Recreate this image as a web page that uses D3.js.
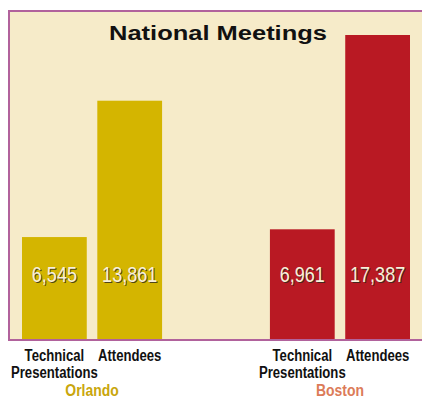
<!DOCTYPE html>
<html>
<head>
<meta charset="utf-8">
<script src="https://cdn.jsdelivr.net/npm/d3@7"></script>
<style>
  body { margin: 0; background: #ffffff; overflow: hidden; }
  svg { display: block; overflow: hidden; }
  text { font-family: "Liberation Sans", Arial, sans-serif; }
</style>
</head>
<body>
<div id="chart"></div>
<script>
// data
var cities = ["Orlando", "Boston"];
var measures = ["Technical Presentations", "Attendees"];
var measure_lines = [["Technical", "Presentations"], ["Attendees"]];
var orlando_values = [6545, 13861];
var boston_values = [6961, 17387];

var bar_colours = {"Orlando": "#d4b500", "Boston": "#b91923"};
var city_colours = {"Orlando": "#c9a60c", "Boston": "#dc7b59"};

var width = 422, height = 400;
var squeeze = 0.82; // the original uses a condensed face

var rows = [];
cities.forEach(function(city, ci){
	var vals = ci == 0 ? orlando_values : boston_values;
	measures.forEach(function(m, mi){
		rows.push({city: city, measure: m, mi: mi, value: vals[mi]});
	});
});

function narrow(sel, x, y){
	sel.attr("transform", "translate(" + x + "," + y + ") scale(" + squeeze + ",1)")
		.attr("text-anchor", "middle");
	return sel;
}

var svg = d3.select("#chart").append("svg")
	.attr("width", width)
	.attr("height", height);

// panel, runs off the right edge like the original
var panel = {left: 9, top: 11, bottom: 340};
svg.append("rect")
	.attr("x", panel.left)
	.attr("y", panel.top)
	.attr("width", width)
	.attr("height", panel.bottom - panel.top)
	.attr("fill", "#f6ebc9");

var x0 = d3.scaleBand()
	.domain(cities)
	.range([22, 410])
	.paddingInner(0.435);

var x1 = d3.scaleBand()
	.domain(measures)
	.range([0, x0.bandwidth()])
	.paddingInner(0.14);

// the bars do not start from zero in the original
var y = d3.scaleLinear()
	.domain([1075, 17387])
	.range([339, 35]);

var fmt = d3.format(",");

var bars = svg.selectAll("g.bar")
	.data(rows)
	.enter().append("g")
	.attr("class", "bar")
	.attr("transform", function(d){ return "translate(" + (x0(d.city) + x1(d.measure)) + ",0)"; });

bars.append("rect")
	.attr("x", 0)
	.attr("y", function(d){ return y(d.value); })
	.attr("width", x1.bandwidth())
	.attr("height", function(d){ return y.range()[0] - y(d.value); })
	.attr("fill", function(d){ return bar_colours[d.city]; });

// value labels with a little dark shadow
bars.append("text")
	.call(narrow, x1.bandwidth() / 2 + 1, 283)
	.attr("font-size", 22)
	.attr("fill", "#2e2a1c")
	.attr("opacity", 0.8)
	.text(function(d){ return fmt(d.value); });

bars.append("text")
	.call(narrow, x1.bandwidth() / 2, 282)
	.attr("font-size", 22)
	.attr("fill", "#f7f0db")
	.text(function(d){ return fmt(d.value); });

// border on top of bars (left, top, bottom only)
var border = svg.append("g")
	.attr("stroke", "#b1629c")
	.attr("stroke-width", 2);
border.append("line")
	.attr("x1", panel.left).attr("x2", width)
	.attr("y1", panel.top).attr("y2", panel.top);
border.append("line")
	.attr("x1", panel.left).attr("x2", width)
	.attr("y1", panel.bottom).attr("y2", panel.bottom);
border.append("line")
	.attr("x1", panel.left).attr("x2", panel.left)
	.attr("y1", panel.top - 1).attr("y2", panel.bottom + 1);

// title
svg.append("text")
	.attr("x", 218)
	.attr("y", 40)
	.attr("text-anchor", "middle")
	.attr("font-weight", "bold")
	.attr("font-size", 19.5)
	.attr("textLength", 218)
	.attr("lengthAdjust", "spacingAndGlyphs")
	.attr("fill", "#111")
	.text("National Meetings");

// category labels under the bars
bars.each(function(d){
	var g = d3.select(this);
	measure_lines[d.mi].forEach(function(line, li){
		g.append("text")
			.call(narrow, x1.bandwidth() / 2, 361 + li * 17)
			.attr("font-size", 16)
			.attr("font-weight", "bold")
			.attr("fill", "#111")
			.text(line);
	});
});

// city labels
svg.selectAll("text.city")
	.data(cities)
	.enter().append("text")
	.attr("class", "city")
	.each(function(d){
		d3.select(this).call(narrow, x0(d) + x0.bandwidth() / 2, 396);
	})
	.attr("font-size", 17)
	.attr("font-weight", "bold")
	.attr("fill", function(d){ return city_colours[d]; })
	.text(function(d){ return d; });
</script>
</body>
</html>
